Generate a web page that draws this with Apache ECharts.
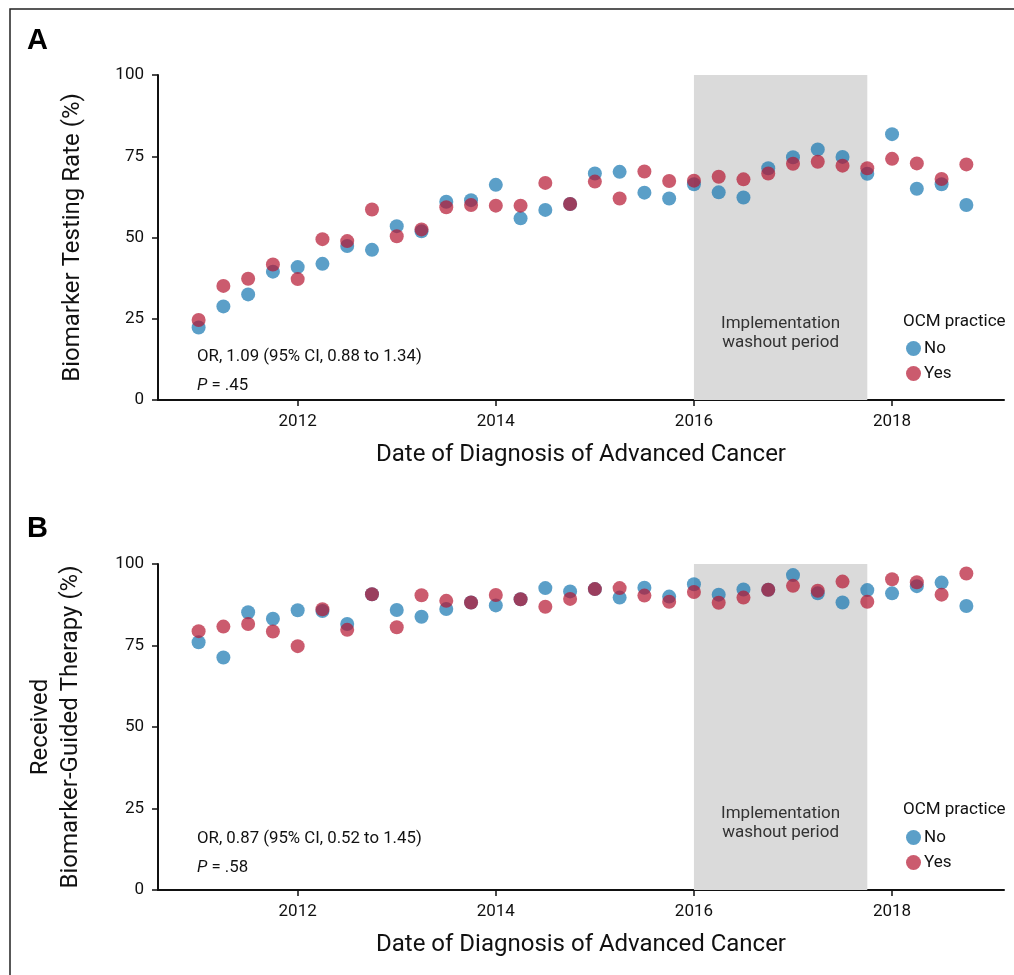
<!DOCTYPE html>
<html>
<head>
<meta charset="utf-8">
<script src="https://cdn.jsdelivr.net/npm/echarts@6/dist/echarts.min.js"></script>
<style>html,body{margin:0;padding:0;background:#fff;}#c{width:1014px;height:975px;}</style>
</head>
<body>
<div id="c"></div>
<script>
// Quarter start dates (decimal years)
const quarters = [2011.00, 2011.25, 2011.50, 2011.75, 2012.00, 2012.25, 2012.50, 2012.75,
  2013.00, 2013.25, 2013.50, 2013.75, 2014.00, 2014.25, 2014.50, 2014.75,
  2015.00, 2015.25, 2015.50, 2015.75, 2016.00, 2016.25, 2016.50, 2016.75,
  2017.00, 2017.25, 2017.50, 2017.75, 2018.00, 2018.25, 2018.50, 2018.75];

// Panel A: Biomarker testing rate (%)
const testNo  = [22.3, 28.8, 32.5, 39.5, 40.9, 41.9, 47.4, 46.2, 53.5, 51.9, 61.0, 61.5,
  66.2, 55.9, 58.5, 60.3, 69.7, 70.2, 63.8, 62.0, 66.4, 63.9, 62.3, 71.3,
  74.7, 77.1, 74.8, 69.6, 81.8, 65.0, 66.4, 60.0];
const testYes = [24.6, 35.1, 37.3, 41.7, 37.2, 49.5, 48.9, 58.6, 50.4, 52.5, 59.3, 60.0,
  59.8, 59.8, 66.8, 60.3, 67.2, 62.0, 70.3, 67.4, 67.5, 68.7, 67.9, 69.7,
  72.7, 73.3, 72.1, 71.3, 74.2, 72.8, 68.0, 72.5];

// Panel B: Received biomarker-guided therapy (%)
const therNo  = [76.0, 71.3, 85.2, 83.2, 85.8, 85.6, 81.6, 90.7, 85.9, 83.8, 86.2, 88.2,
  87.3, 89.2, 92.6, 91.6, 92.3, 89.7, 92.7, 90.0, 93.8, 90.6, 92.2, 92.1,
  96.6, 91.0, 88.2, 92.0, 91.0, 93.2, 94.3, 87.1];
const therYes = [79.4, 80.8, 81.6, 79.3, 74.8, 86.1, 79.8, 90.7, 80.6, 90.4, 88.7, 88.2,
  90.5, 89.2, 86.9, 89.3, 92.3, 92.6, 90.3, 88.4, 91.4, 88.1, 89.7, 92.1,
  93.3, 91.8, 94.6, 88.4, 95.3, 94.4, 90.6, 97.1];

const xTicks = [2012, 2014, 2016, 2018];
const yTicks = [0, 25, 50, 75, 100];
const washout = [2016.0, 2017.75];
const statsA = ['OR, 1.09 (95% CI, 0.88 to 1.34)', '.45'];
const statsB = ['OR, 0.87 (95% CI, 0.52 to 1.45)', '.58'];

const FONT = 'Roboto';
const BLUE = 'rgb(21,118,176)';
const RED = 'rgb(181,22,48)';
const OP = 0.7;

function pairs(xs, ys) { return xs.map((x, i) => [x, ys[i]]); }

function xAxisDef(gi) {
  return {
    type: 'value', gridIndex: gi, min: 2010.59, max: 2019.13,
    name: 'Date of Diagnosis of Advanced Cancer', nameLocation: 'middle', nameGap: 43,
    nameTextStyle: { fontFamily: FONT, fontSize: 24, color: '#111' },
    splitLine: { show: false },
    axisLine: { show: true, lineStyle: { color: '#111', width: 2 } },
    axisTick: { show: true, customValues: xTicks, length: 6, lineStyle: { color: '#111', width: 1.5 } },
    axisLabel: { customValues: xTicks, formatter: v => String(Math.round(v)),
      fontFamily: FONT, fontSize: 17, color: '#111', margin: 13 }
  };
}
function yAxisDef(gi, name, gap) {
  return {
    type: 'value', gridIndex: gi, min: 0, max: 100, interval: 25,
    name: name, nameLocation: 'middle', nameGap: gap,
    nameTextStyle: { fontFamily: FONT, fontSize: 24, color: '#111', lineHeight: 30 },
    splitLine: { show: false },
    axisLine: { show: true, lineStyle: { color: '#111', width: 2 } },
    axisTick: { show: true, length: 6, lineStyle: { color: '#111', width: 1.5 } },
    axisLabel: { fontFamily: FONT, fontSize: 17, color: '#111', margin: 14 }
  };
}
function areaSeries(gi) {
  return {
    type: 'scatter', xAxisIndex: gi, yAxisIndex: gi, data: [], z: 1, silent: true,
    markArea: {
      silent: true,
      itemStyle: { color: '#dadada' },
      label: {
        show: true, position: 'insideBottom', distance: 48,
        formatter: 'Implementation\nwashout period',
        fontFamily: FONT, fontSize: 17, color: '#333', lineHeight: 19
      },
      data: [[{ xAxis: washout[0], yAxis: 0 }, { xAxis: washout[1], yAxis: 100 }]]
    }
  };
}
function pointSeries(gi, name, color, data) {
  return {
    type: 'scatter', name: name, xAxisIndex: gi, yAxisIndex: gi, z: 3,
    symbol: 'circle', symbolSize: 14,
    itemStyle: { color: color, opacity: OP },
    data: data
  };
}
function statText(top, s) {
  return {
    type: 'text', left: 197, top: top,
    style: {
      text: '{n|' + s[0] + '}\n{i|P}{n| = ' + s[1] + '}',
      fontFamily: FONT, fontSize: 16.8, fill: '#111',
      rich: {
        n: { fontFamily: FONT, fontSize: 16.8, fill: '#111', lineHeight: 29 },
        i: { fontStyle: 'italic', fontFamily: FONT, fontSize: 16.8, fill: '#111', lineHeight: 29 }
      }
    }
  };
}
function legendDef(top) {
  return {
    data: ['No', 'Yes'], orient: 'vertical', left: 901, top: top,
    icon: 'circle', itemWidth: 15, itemHeight: 15, itemGap: 8,
    selectedMode: false,
    textStyle: { fontFamily: FONT, fontSize: 17, color: '#111', padding: [0, 0, 0, -2] }
  };
}

const chart = echarts.init(document.getElementById('c'), null, { renderer: 'canvas' });
chart.setOption({
  backgroundColor: '#fff',
  animation: false,
  grid: [
    { left: 158, top: 75, right: 10, height: 325 },
    { left: 158, top: 564, right: 10, height: 326 }
  ],
  xAxis: [xAxisDef(0), xAxisDef(1)],
  yAxis: [yAxisDef(0, 'Biomarker Testing Rate (%)', 70),
          yAxisDef(1, 'Received\nBiomarker-Guided Therapy (%)', 72)],
  legend: [legendDef(335), legendDef(824)],
  series: [
    areaSeries(0),
    pointSeries(0, 'No', BLUE, pairs(quarters, testNo)),
    pointSeries(0, 'Yes', RED, pairs(quarters, testYes)),
    areaSeries(1),
    pointSeries(1, 'No', BLUE, pairs(quarters, therNo)),
    pointSeries(1, 'Yes', RED, pairs(quarters, therYes))
  ],
  graphic: [
    { type: 'polyline', shape: { points: [[10, 975], [10, 9], [1014, 9]] },
      style: { stroke: '#222', lineWidth: 1.5, fill: null } },
    { type: 'text', left: 27, top: 26, style: { text: 'A', fontFamily: 'Liberation Sans', fontWeight: 'bold', fontSize: 29, fill: '#000' } },
    { type: 'text', left: 27, top: 514, style: { text: 'B', fontFamily: 'Liberation Sans', fontWeight: 'bold', fontSize: 29, fill: '#000' } },
    statText(348, statsA),
    statText(830, statsB),
    { type: 'text', left: 903, top: 313, style: { text: 'OCM practice', fontFamily: FONT, fontSize: 17, fill: '#111' } },
    { type: 'text', left: 903, top: 801, style: { text: 'OCM practice', fontFamily: FONT, fontSize: 17, fill: '#111' } }
  ]
});
</script>
</body>
</html>
